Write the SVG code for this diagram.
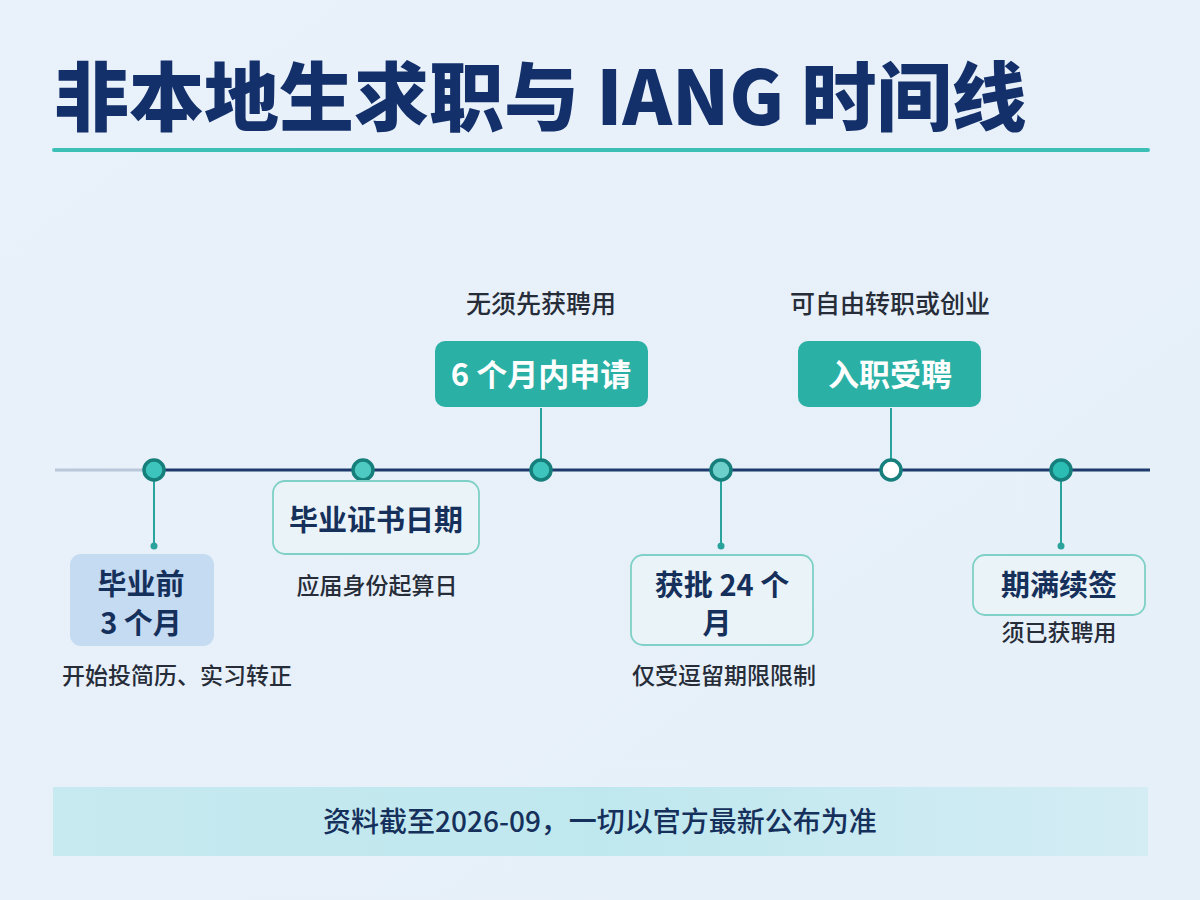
<svg xmlns="http://www.w3.org/2000/svg" width="1200" height="900" viewBox="0 0 1200 900">
<defs>
<linearGradient id="bg" x1="0" y1="0" x2="1" y2="1">
<stop offset="0" stop-color="#e9f1fa"/>
<stop offset="1" stop-color="#e6f0f9"/>
</linearGradient>
<linearGradient id="foot" x1="0" y1="0" x2="1" y2="0">
<stop offset="0" stop-color="#c7e9f0"/>
<stop offset="0.5" stop-color="#bfe8ee"/>
<stop offset="1" stop-color="#d4ecf4"/>
</linearGradient>
<style>
.cjk{font-family:"Noto Sans CJK SC","Noto Sans",sans-serif}
.title{font-size:75px;font-weight:900;fill:#14306b}
.lbl{font-size:29px;font-weight:700;fill:#16305c;text-anchor:middle}
.lblw{font-size:31px;font-weight:700;fill:#ffffff;text-anchor:middle}
.sub{font-size:23px;font-weight:500;fill:#262c38;text-anchor:middle}
.subt{font-size:25px;font-weight:500;fill:#262c38;text-anchor:middle}
.stem{stroke:#2aa39c;stroke-width:2;fill:none}
.dot{fill:#2aa39c}
.dotc{stroke:#167f7c;stroke-width:3.5}
.outline{fill:#eaf4f8;stroke:#7fd0c6;stroke-width:1.8}
.solid{fill:#2bb0a6}
</style>
</defs>
<rect width="1200" height="900" fill="url(#bg)"/>
<text class="cjk title" x="54" y="125">非本地生求职与 IANG 时间线</text>
<rect x="52" y="148" width="1098" height="4" rx="2" fill="#3cc0b6"/>

<g id="connectors">
<line x1="55" y1="470" x2="154" y2="470" stroke="#b8c8d8" stroke-width="3"/>
<line x1="154" y1="470" x2="1150" y2="470" stroke="#1c3b6c" stroke-width="3"/>
<line class="stem" x1="154" y1="478" x2="154" y2="546"/>
<circle class="dot" cx="154" cy="546" r="3.5"/>
<line class="stem" x1="363" y1="478" x2="363" y2="494"/>
<line class="stem" x1="541" y1="408" x2="541" y2="462"/>
<line class="stem" x1="721" y1="478" x2="721" y2="546"/>
<circle class="dot" cx="721" cy="546" r="3.5"/>
<line class="stem" x1="891" y1="408" x2="891" y2="462"/>
<line class="stem" x1="1061" y1="478" x2="1061" y2="546"/>
<circle class="dot" cx="1061" cy="546" r="3.5"/>
</g>

<g id="node1">
<circle class="dotc" cx="154" cy="470" r="10" fill="#3cc4bd"/>
<rect x="70" y="554" width="144" height="92" rx="11" fill="#c5dbf2"/>
<text class="cjk lbl" x="141" y="595">毕业前</text>
<text class="cjk lbl" x="141" y="634">3 个月</text>
<text class="cjk sub" x="177" y="684">开始投简历、实习转正</text>
</g>

<g id="node2">
<circle class="dotc" cx="363" cy="470" r="10" fill="#4ecac2"/>
<rect class="outline" x="273" y="481" width="206" height="73" rx="12"/>
<text class="cjk lbl" x="376" y="531">毕业证书日期</text>
<text class="cjk sub" x="377" y="594">应届身份起算日</text>
</g>

<g id="node3">
<circle class="dotc" cx="541" cy="470" r="10" fill="#3cc4bd"/>
<rect class="solid" x="435" y="341" width="213" height="66" rx="10"/>
<text class="cjk lblw" x="541" y="386">6 个月内申请</text>
<text class="cjk subt" x="541" y="313">无须先获聘用</text>
</g>

<g id="node4">
<circle class="dotc" cx="721" cy="470" r="10" fill="#6dd0cb"/>
<rect class="outline" x="631" y="555" width="182" height="90" rx="12"/>
<text class="cjk lbl" x="722" y="596" font-size="30">获批 24 个</text>
<text class="cjk lbl" x="717" y="634" font-size="30">月</text>
<text class="cjk sub" x="724" y="684">仅受逗留期限限制</text>
</g>

<g id="node5">
<circle class="dotc" cx="891" cy="470" r="10" fill="#ffffff"/>
<rect class="solid" x="798" y="341" width="183" height="66" rx="10"/>
<text class="cjk lblw" x="890" y="386">入职受聘</text>
<text class="cjk subt" x="890" y="313">可自由转职或创业</text>
</g>

<g id="node6">
<circle class="dotc" cx="1061" cy="470" r="10" fill="#2bbdb4"/>
<rect class="outline" x="973" y="555" width="172" height="60" rx="12"/>
<text class="cjk lbl" x="1059" y="596" font-size="31">期满续签</text>
<text class="cjk sub" x="1059" y="641">须已获聘用</text>
</g>

<g id="footer">
<rect x="53" y="787" width="1095" height="69" fill="url(#foot)"/>
<text class="cjk" x="600" y="832" text-anchor="middle" font-size="28" font-weight="500" fill="#16305c">资料截至2026-09，一切以官方最新公布为准</text>
</g>
</svg>
